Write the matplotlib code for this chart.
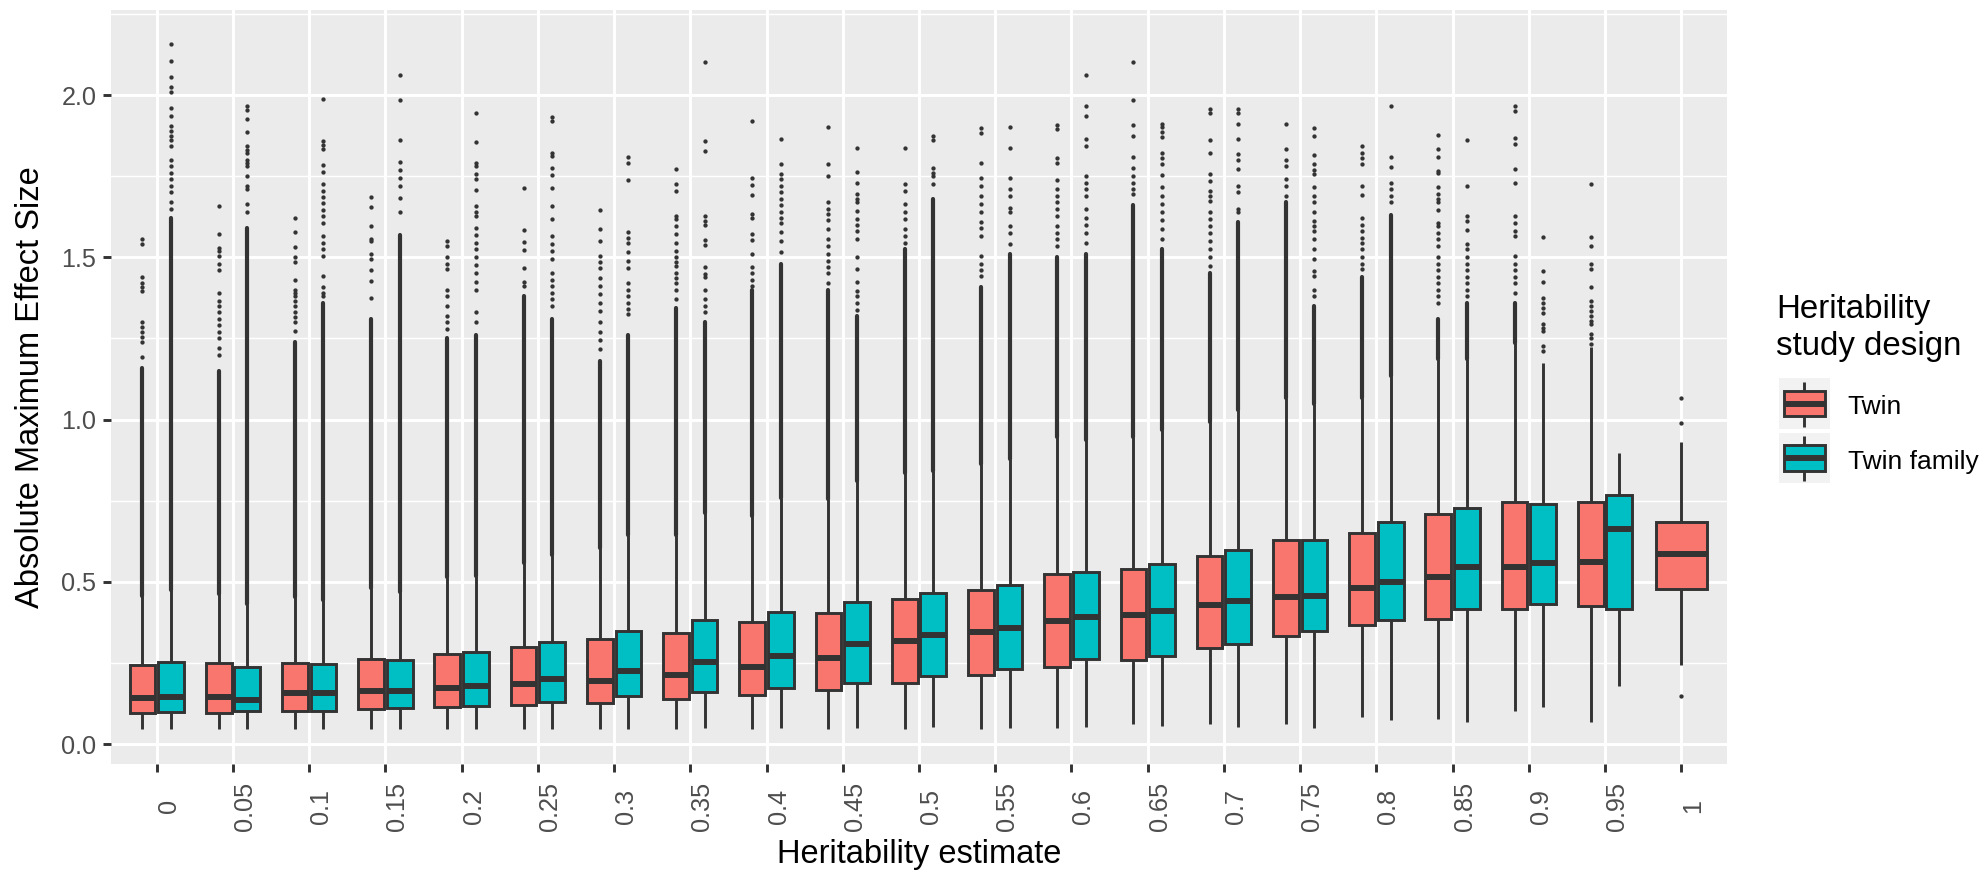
import numpy as np
import matplotlib
matplotlib.use("Agg")
from matplotlib import pyplot as plt
from matplotlib.patches import Rectangle

plt.rcParams['font.family'] = ['Liberation Sans', 'DejaVu Sans']

heritability = ['0', '0.05', '0.1', '0.15', '0.2', '0.25', '0.3', '0.35', '0.4',
                '0.45', '0.5', '0.55', '0.6', '0.65', '0.7', '0.75', '0.8',
                '0.85', '0.9', '0.95', '1']

# Twin studies: box statistics per heritability estimate
twin_q1 = [0.095, 0.097, 0.103, 0.108, 0.115, 0.120, 0.127, 0.138, 0.151, 0.166,
           0.189, 0.213, 0.238, 0.259, 0.297, 0.334, 0.367, 0.385, 0.416, 0.425, 0.479]
twin_med = [0.143, 0.146, 0.156, 0.163, 0.174, 0.184, 0.195, 0.214, 0.238, 0.266,
            0.318, 0.345, 0.380, 0.398, 0.428, 0.454, 0.480, 0.514, 0.546, 0.562, 0.586]
twin_q3 = [0.243, 0.249, 0.249, 0.263, 0.278, 0.300, 0.323, 0.343, 0.375, 0.403,
           0.448, 0.475, 0.524, 0.538, 0.579, 0.629, 0.649, 0.708, 0.747, 0.747, 0.683]
twin_lo = [0.046, 0.046, 0.046, 0.046, 0.046, 0.046, 0.046, 0.046, 0.046, 0.046,
           0.047, 0.047, 0.048, 0.062, 0.061, 0.062, 0.084, 0.076, 0.102, 0.069, 0.243]
twin_hi = [0.456, 0.462, 0.454, 0.482, 0.516, 0.559, 0.605, 0.644, 0.703, 0.754,
           0.834, 0.862, 0.947, 0.947, 0.993, 1.065, 1.065, 1.188, 1.235, 1.224, 0.930]
# top of the solid run of overlapping outliers (None = no solid run)
twin_dense = [1.16, 1.15, 1.24, 1.31, 1.25, 1.38, 1.18, 1.345, 1.40, 1.40,
              1.525, 1.407, 1.50, 1.66, 1.45, 1.67, 1.44, 1.31, 1.36, None, None]
twin_out = [
    [1.557, 1.542, 1.440, 1.420, 1.408, 1.395, 1.300, 1.285, 1.270, 1.255, 1.240, 1.194],
    [1.658, 1.572, 1.530, 1.520, 1.505, 1.480, 1.460, 1.390, 1.366, 1.350, 1.330, 1.310,
     1.290, 1.270, 1.250, 1.220, 1.200],
    [1.621, 1.577, 1.533, 1.500, 1.484, 1.430, 1.400, 1.390, 1.380, 1.366, 1.350, 1.330,
     1.315, 1.300, 1.273],
    [1.686, 1.654, 1.595, 1.557, 1.550, 1.510, 1.496, 1.460, 1.426, 1.373],
    [1.550, 1.535, 1.500, 1.480, 1.465, 1.400, 1.380, 1.350, 1.320, 1.300, 1.280],
    [1.713, 1.584, 1.547, 1.523, 1.467, 1.424, 1.412],
    [1.645, 1.586, 1.551, 1.504, 1.485, 1.468, 1.437, 1.410, 1.386, 1.360, 1.335, 1.300,
     1.270, 1.245, 1.217],
    [1.773, 1.725, 1.704, 1.627, 1.617, 1.595, 1.571, 1.545, 1.520, 1.500, 1.485, 1.473,
     1.453, 1.435, 1.420, 1.400, 1.371],
    [1.919, 1.743, 1.723, 1.693, 1.633, 1.620, 1.573, 1.554, 1.510, 1.471, 1.450, 1.430, 1.410],
    [1.901, 1.787, 1.749, 1.669, 1.650, 1.632, 1.615, 1.586, 1.556, 1.535, 1.510, 1.490,
     1.470, 1.450, 1.422],
    [1.838, 1.725, 1.704, 1.664, 1.640, 1.617, 1.586, 1.565, 1.545],
    [1.899, 1.882, 1.790, 1.743, 1.720, 1.690, 1.663, 1.640, 1.610, 1.590, 1.566, 1.504,
     1.480, 1.460, 1.443],
    [1.907, 1.894, 1.807, 1.790, 1.739, 1.710, 1.690, 1.670, 1.650, 1.627, 1.597, 1.575,
     1.555, 1.535],
    [2.103, 1.984, 1.908, 1.873, 1.810, 1.776, 1.750, 1.730, 1.710, 1.694],
    [1.956, 1.946, 1.861, 1.820, 1.756, 1.735, 1.704, 1.690, 1.674, 1.638, 1.617, 1.597,
     1.575, 1.550, 1.525, 1.500, 1.473],
    [1.911, 1.835, 1.800, 1.780, 1.740, 1.720, 1.690],
    [1.843, 1.822, 1.805, 1.787, 1.719, 1.691, 1.622, 1.600, 1.580, 1.560, 1.545, 1.525,
     1.500, 1.480, 1.463],
    [1.876, 1.833, 1.809, 1.766, 1.761, 1.718, 1.694, 1.680, 1.669, 1.646, 1.607, 1.597,
     1.576, 1.555, 1.535, 1.500, 1.480, 1.460, 1.440, 1.420, 1.400, 1.380, 1.360],
    [1.966, 1.951, 1.869, 1.848, 1.773, 1.728, 1.627, 1.607, 1.581, 1.566, 1.504, 1.480,
     1.460, 1.440, 1.420, 1.391],
    [1.727, 1.563, 1.536, 1.479, 1.463, 1.407, 1.366, 1.350, 1.335, 1.320, 1.305, 1.294,
     1.263, 1.250, 1.232],
    [1.067, 0.988, 0.148],
]

# Twin family studies (no group at heritability 1)
fam_q1 = [0.098, 0.101, 0.103, 0.111, 0.118, 0.128, 0.148, 0.159, 0.172, 0.189,
          0.210, 0.230, 0.261, 0.272, 0.307, 0.348, 0.382, 0.415, 0.431, 0.415]
fam_med = [0.145, 0.136, 0.156, 0.163, 0.179, 0.200, 0.225, 0.252, 0.272, 0.309,
           0.336, 0.358, 0.392, 0.410, 0.441, 0.456, 0.500, 0.546, 0.559, 0.662]
fam_q3 = [0.252, 0.238, 0.246, 0.260, 0.285, 0.314, 0.348, 0.382, 0.408, 0.439,
          0.464, 0.490, 0.529, 0.554, 0.598, 0.629, 0.685, 0.726, 0.740, 0.767]
fam_lo = [0.046, 0.046, 0.046, 0.046, 0.046, 0.046, 0.046, 0.048, 0.048, 0.048,
          0.051, 0.048, 0.051, 0.055, 0.051, 0.048, 0.074, 0.069, 0.113, 0.179]
fam_hi = [0.475, 0.431, 0.444, 0.469, 0.518, 0.582, 0.644, 0.713, 0.759, 0.810,
          0.841, 0.877, 0.937, 0.968, 1.029, 1.048, 1.134, 1.188, 1.173, 0.896]
fam_dense = [1.62, 1.59, 1.36, 1.57, 1.26, 1.31, 1.26, 1.30, 1.48, 1.32,
             1.68, 1.51, 1.51, 1.525, 1.61, 1.35, 1.63, 1.36, None, None]
fam_out = [
    [2.158, 2.104, 2.054, 2.025, 2.008, 1.959, 1.935, 1.905, 1.890, 1.875, 1.860, 1.843,
     1.800, 1.780, 1.760, 1.740, 1.720, 1.700, 1.670, 1.650],
    [1.966, 1.953, 1.925, 1.886, 1.843, 1.830, 1.822, 1.800, 1.790, 1.780, 1.750, 1.720,
     1.710, 1.663, 1.638],
    [1.987, 1.858, 1.845, 1.835, 1.783, 1.763, 1.725, 1.705, 1.687, 1.667, 1.647, 1.627,
     1.607, 1.566, 1.545, 1.525, 1.505, 1.443, 1.407, 1.390, 1.380],
    [2.061, 1.985, 1.861, 1.793, 1.769, 1.745, 1.719, 1.682, 1.639],
    [1.946, 1.855, 1.789, 1.781, 1.756, 1.740, 1.708, 1.658, 1.640, 1.627, 1.590, 1.570,
     1.545, 1.525, 1.500, 1.475, 1.450, 1.425, 1.400, 1.330, 1.300],
    [1.933, 1.920, 1.822, 1.812, 1.775, 1.754, 1.713, 1.658, 1.618, 1.565, 1.540, 1.520,
     1.494, 1.453, 1.430, 1.410, 1.390, 1.370, 1.350],
    [1.810, 1.790, 1.739, 1.578, 1.560, 1.545, 1.515, 1.490, 1.468, 1.420, 1.400, 1.380,
     1.360, 1.340, 1.325],
    [2.103, 1.857, 1.826, 1.627, 1.612, 1.600, 1.553, 1.537, 1.471, 1.448, 1.438, 1.400,
     1.371, 1.350, 1.330],
    [1.864, 1.786, 1.756, 1.740, 1.720, 1.700, 1.680, 1.660, 1.640, 1.620, 1.607, 1.578,
     1.550, 1.515],
    [1.838, 1.762, 1.730, 1.696, 1.680, 1.669, 1.643, 1.619, 1.600, 1.580, 1.556, 1.502,
     1.465, 1.425, 1.396, 1.380, 1.360, 1.338],
    [1.874, 1.860, 1.776, 1.760, 1.750, 1.725],
    [1.902, 1.838, 1.743, 1.710, 1.690, 1.653, 1.638, 1.597, 1.576, 1.540],
    [2.061, 1.966, 1.935, 1.864, 1.843, 1.750, 1.730, 1.710, 1.689, 1.648, 1.620, 1.600,
     1.575, 1.545],
    [1.912, 1.900, 1.885, 1.870, 1.822, 1.805, 1.787, 1.753, 1.715, 1.690, 1.665, 1.640,
     1.615, 1.586, 1.556],
    [1.956, 1.944, 1.911, 1.864, 1.819, 1.800, 1.773, 1.720, 1.700, 1.648, 1.638],
    [1.897, 1.873, 1.816, 1.787, 1.770, 1.756, 1.715, 1.690, 1.669, 1.639, 1.612, 1.595,
     1.580, 1.556, 1.525, 1.494, 1.458, 1.443, 1.400, 1.380],
    [1.965, 1.810, 1.779, 1.730, 1.710, 1.690, 1.669],
    [1.861, 1.719, 1.627, 1.612, 1.583, 1.540, 1.525, 1.500, 1.480, 1.460, 1.440, 1.420,
     1.400, 1.380],
    [1.561, 1.458, 1.424, 1.376, 1.360, 1.345, 1.328, 1.294, 1.283, 1.273, 1.227, 1.212],
    [],
]

TWIN = '#F8766D'
FAMILY = '#00BFC4'
INK = '#333333'

W, H = 1986, 874
fig = plt.figure(figsize=(W / 100, H / 100), dpi=100)
ax = fig.add_axes([111 / W, 110 / H, 1616 / W, 754 / H])
ax.set_facecolor('#EBEBEB')
ax.set_xlim(-0.6, len(heritability) - 0.4)
ax.set_ylim(-0.0616, 2.262)
for s in ax.spines.values():
    s.set_visible(False)

ax.set_yticks([0, 0.5, 1.0, 1.5, 2.0])
ax.set_yticklabels(['0.0', '0.5', '1.0', '1.5', '2.0'])
ax.set_yticks([0.25, 0.75, 1.25, 1.75, 2.25], minor=True)
ax.set_xticks(np.arange(len(heritability)))
ax.set_xticklabels(heritability, rotation=90, ha='left', va='center')
ax.grid(which='major', color='white', lw=2.1)
ax.grid(which='minor', axis='y', color='white', lw=1.05)
ax.set_axisbelow(True)
ax.tick_params(which='major', length=5.8, width=2.1, color=INK,
               labelcolor='#4D4D4D', labelsize=18.2)
ax.tick_params(axis='y', which='major', pad=4.7)
ax.tick_params(axis='x', which='major', pad=24.5)
ax.tick_params(which='minor', length=0)


def draw_box(x, w, q1, med, q3, lo, hi, dense, outs, color):
    ax.plot([x, x], [lo, q1], color=INK, lw=2.1, solid_capstyle='butt', zorder=2)
    ax.plot([x, x], [q3, hi], color=INK, lw=2.1, solid_capstyle='butt', zorder=2)
    if dense is not None:
        ax.plot([x, x], [hi, dense], color=INK, lw=3.0, solid_capstyle='round', zorder=2)
    if outs:
        ax.plot([x] * len(outs), outs, 'o', color=INK, ms=3.1, mew=0, zorder=2)
    ax.add_patch(Rectangle((x - w / 2, q1), w, q3 - q1, facecolor=color,
                           edgecolor=INK, lw=2.1, zorder=3))
    ax.plot([x - w / 2, x + w / 2], [med, med], color=INK, lw=4.3,
            solid_capstyle='butt', zorder=4)


bw = 0.3375
for i in range(len(heritability)):
    has_fam = i < len(fam_q1)
    if has_fam:
        draw_box(i - 0.1875, bw, twin_q1[i], twin_med[i], twin_q3[i], twin_lo[i],
                 twin_hi[i], twin_dense[i], twin_out[i], TWIN)
        draw_box(i + 0.1875, bw, fam_q1[i], fam_med[i], fam_q3[i], fam_lo[i],
                 fam_hi[i], fam_dense[i], fam_out[i], FAMILY)
    else:
        draw_box(i, 2 * bw, twin_q1[i], twin_med[i], twin_q3[i], twin_lo[i],
                 twin_hi[i], twin_dense[i], twin_out[i], TWIN)

fig.text(919 / W, 1 - 855 / H, 'Heritability estimate', ha='center', va='center',
         fontsize=23.5, color='black')
fig.text(31 / W, 1 - 387 / H, 'Absolute Maximum Effect Size', ha='center', va='center',
         rotation=90, fontsize=23.5, color='black')

# legend, laid out in pixel units
lax = fig.add_axes([0, 0, 1, 1])
lax.set_xlim(0, W)
lax.set_ylim(H, 0)
lax.axis('off')
lax.patch.set_visible(False)

lax.text(1776, 318, 'Heritability', fontsize=23.8, va='baseline', ha='left')
lax.text(1776, 355, 'study design', fontsize=23.8, va='baseline', ha='left')

for k, (label, color) in enumerate([('Twin', TWIN), ('Twin family', FAMILY)]):
    top = 378.3 + k * 54.4
    lax.add_patch(Rectangle((1779, top), 51, 50.7, facecolor='#F2F2F2',
                            edgecolor='none', zorder=1))
    cx = 1804.3
    lax.plot([cx, cx], [top + 3.4, top + 12.5], color=INK, lw=2.1,
             solid_capstyle='butt', zorder=2)
    lax.plot([cx, cx], [top + 37.9, top + 48.4], color=INK, lw=2.1,
             solid_capstyle='butt', zorder=2)
    lax.add_patch(Rectangle((1784.2, top + 12.5), 40.3, 25.4, facecolor=color,
                            edgecolor=INK, lw=2.1, zorder=3))
    lax.plot([1784.2, 1824.5], [top + 25.7, top + 25.7], color=INK, lw=4.3,
             solid_capstyle='butt', zorder=4)
    lax.text(1847.5, top + 36.0, label, fontsize=19.0, va='baseline', ha='left')

fig.savefig('out.png', dpi=100)
